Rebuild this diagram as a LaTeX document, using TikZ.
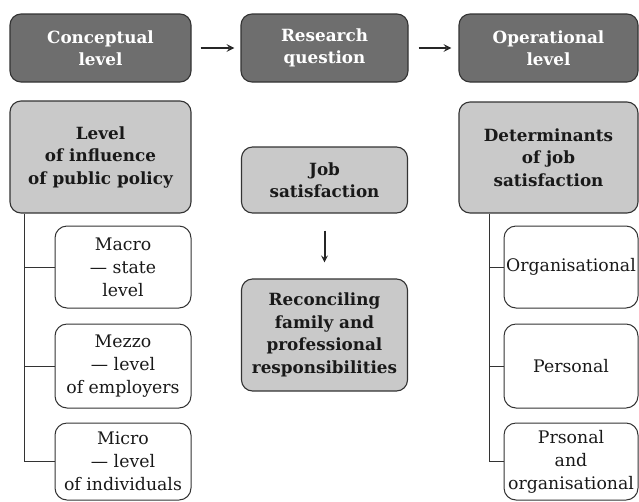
\documentclass[tikz,border=0pt]{standalone}
\usepackage{fontspec}
\setmainfont{DejaVu Serif}
\usepackage{xcolor}
\usetikzlibrary{arrows,shapes,positioning}
\definecolor{darkbox}{HTML}{6E6E6E}
\definecolor{lightbox}{HTML}{C9C9C9}
\definecolor{edgegray}{HTML}{333333}
\tikzstyle{level} = [rectangle, rounded corners=11pt, draw=edgegray, line width=1.1pt, fill=darkbox, text=white, align=center, inner sep=0pt, minimum height=68pt, font=\bfseries\fontsize{16.8}{22.5}\selectfont]
\tikzstyle{topic} = [rectangle, rounded corners=11pt, draw=edgegray, line width=1.1pt, fill=lightbox, text=black!90, align=center, inner sep=0pt, font=\bfseries\fontsize{16.8}{22.5}\selectfont]
\tikzstyle{item} = [rectangle, rounded corners=12pt, draw=edgegray, line width=1pt, fill=white, text=black!90, align=center, inner sep=0pt, minimum width=136pt, font=\fontsize{17.3}{23}\selectfont]
\tikzstyle{arrow} = [line width=2.4pt, ->, >=stealth, draw=black!85]
\tikzstyle{branch} = [line width=1pt, draw=edgegray]

\begin{document}
\begin{tikzpicture}[node distance=224pt]
\useasboundingbox (0,0) rectangle (639pt,-501pt);
% top row
\node (concept) [level, minimum width=181pt] at (100.5pt,-48pt) {Conceptual\\level};
\node (question) [level, minimum width=167pt, right of = concept] {Research\\question};
\node (oper) [level, minimum width=179pt, right of = question] {Operational\\level};
% left column
\node (policy) [topic, minimum width=181pt, minimum height=112pt, below of = concept, node distance=109pt] {Level\\of influence\\of public policy};
\node (macro) [item, minimum height=82pt, below of = policy, node distance=110pt, xshift=22.5pt] {Macro\\— state\\level};
\node (mezzo) [item, minimum height=84pt, below of = macro, node distance=99pt] {Mezzo\\— level\\of employers};
\node (micro) [item, minimum height=77pt, below of = mezzo, node distance=95.5pt] {Micro\\— level\\of individuals};
% middle column
\node (job) [topic, minimum width=166pt, minimum height=66pt, below of = question, node distance=132pt] {Job\\satisfaction};
\node (family) [topic, minimum width=166pt, minimum height=112pt, below of = job, node distance=155pt] {Reconciling\\family and\\professional\\responsibilities};
% right column
\node (determ) [topic, minimum width=179pt, minimum height=111pt, below of = oper, node distance=109.5pt] {Determinants\\of job\\satisfaction};
\node (organ) [item, minimum width=134pt, minimum height=82pt, below of = determ, node distance=109.5pt, xshift=22.5pt] {Organisational};
\node (person) [item, minimum width=134pt, minimum height=84pt, below of = organ, node distance=99pt] {Personal};
\node (both) [item, minimum width=134pt, minimum height=77pt, below of = person, node distance=95.5pt] {Prsonal\\and\\organisational};

\draw [arrow, shorten <=9pt, shorten >=6pt] (concept) -- (question);
\draw [arrow, shorten <=10pt, shorten >=7pt] (question) -- (oper);
\draw [arrow, line width=2pt, shorten <=17pt, shorten >=16pt] (job) -- (family);

\draw [branch] ([xshift=15pt]policy.south west) |- (micro.west);
\draw [branch] (macro.west) -- ++(-30pt,0);
\draw [branch] (mezzo.west) -- ++(-30pt,0);
\draw [branch] ([xshift=31pt]determ.south west) |- (both.west);
\draw [branch] (organ.west) -- ++(-14pt,0);
\draw [branch] (person.west) -- ++(-14pt,0);
\end{tikzpicture}
\end{document}
